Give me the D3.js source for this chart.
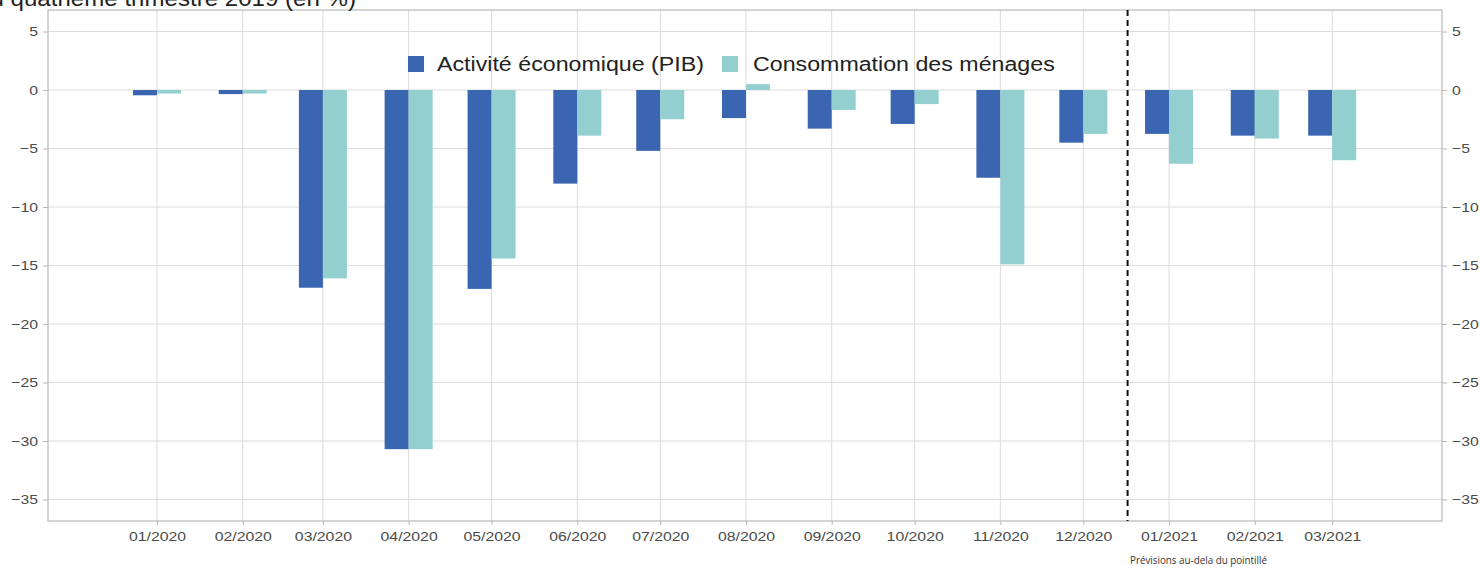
<!DOCTYPE html>
<html><head><meta charset="utf-8">
<script src="https://cdn.jsdelivr.net/npm/d3@7/dist/d3.min.js"></script>
<style>
body{margin:0;background:#fff;}
svg{display:block;font-family:"Liberation Sans",Arial,sans-serif;}
</style></head>
<body><svg id="chart" width="1480" height="569"></svg>
<script>
const months = ["2020-01","2020-02","2020-03","2020-04","2020-05","2020-06","2020-07","2020-08","2020-09","2020-10","2020-11","2020-12","2021-01","2021-02","2021-03"];
const pib = [-0.45,-0.35,-16.9,-30.7,-17.0,-8.0,-5.2,-2.4,-3.3,-2.9,-7.5,-4.5,-3.75,-3.9,-3.9];
const conso = [-0.3,-0.3,-16.1,-30.7,-14.4,-3.9,-2.5,0.5,-1.7,-1.2,-14.9,-3.75,-6.3,-4.15,-6.0];
const yTicks = [5,0,-5,-10,-15,-20,-25,-30,-35];
const seriesNames = ["Activité économique (PIB)","Consommation des ménages"];
const colors = ["#3a65b0","#94cfcf"];
const forecastDate = "2020-12-17";
const titleText = "Écart par rapport au quatrième trimestre 2019 (en %)";
const noteText = "Prévisions au-dela du pointillé";

const parse = d3.utcParse("%Y-%m");
const dates = months.map(parse);
const svg = d3.select("#chart");
const L = 48, R = 1442, T = 10, B = 521;

function stretch(sel, f) {
  sel.each(function () {
    const w = this.getComputedTextLength();
    d3.select(this).attr("textLength", w * f).attr("lengthAdjust", "spacingAndGlyphs");
  });
}

const x = d3.scaleUtc()
  .domain([new Date(Date.UTC(2019,10,22,14)), new Date(Date.UTC(2021,3,9,17))])
  .range([L, R]);
const y = d3.scaleLinear().domain([6.84, -36.84]).range([T, B]);

// gridlines
const g = svg.append("g");
g.selectAll(".hg").data(yTicks).enter().append("line")
  .attr("x1", L).attr("x2", R).attr("y1", d => y(d)).attr("y2", d => y(d))
  .attr("stroke", "#dcdcdc").attr("stroke-width", 1);
g.selectAll(".vg").data(dates).enter().append("line")
  .attr("y1", T).attr("y2", B).attr("x1", d => x(d)).attr("x2", d => x(d))
  .attr("stroke", "#dcdcdc").attr("stroke-width", 1);

// frame
svg.append("rect").attr("x", L).attr("y", T).attr("width", R - L).attr("height", B - T)
  .attr("fill", "none").attr("stroke", "#b8b8b8").attr("stroke-width", 1.2);

// axes
const fmtY = d3.format("d");
const yl = svg.append("g").attr("transform", `translate(${L},0)`)
  .call(d3.axisLeft(y).tickValues(yTicks).tickSize(5).tickPadding(5).tickFormat(fmtY));
const yr = svg.append("g").attr("transform", `translate(${R},0)`)
  .call(d3.axisRight(y).tickValues(yTicks).tickSize(5).tickPadding(5).tickFormat(fmtY));
const xa = svg.append("g").attr("transform", `translate(0,${B})`)
  .call(d3.axisBottom(x).tickValues(dates).tickSize(4).tickPadding(6).tickFormat(d3.utcFormat("%m/%Y")));
[yl, yr, xa].forEach(a => {
  a.select(".domain").remove();
  a.selectAll(".tick line").attr("stroke", "#b8b8b8");
  a.selectAll(".tick text").attr("fill", "#4a4a4a").style("font-size", "13.5px")
    .style("font-family", "'Liberation Sans',Arial,sans-serif");
  stretch(a.selectAll(".tick text"), 1.17);
});

// bars
const bw = 24;
const barsG = svg.append("g");
[pib, conso].forEach((vals, si) => {
  barsG.selectAll(".b" + si).data(vals).enter().append("rect")
    .attr("x", (d, i) => x(dates[i]) + (si === 0 ? -bw : 0))
    .attr("width", bw)
    .attr("y", d => y(Math.max(0, d)))
    .attr("height", d => Math.abs(y(d) - y(0)))
    .attr("fill", colors[si]);
});

// forecast dashed line
const fx = x(d3.utcParse("%Y-%m-%d")(forecastDate));
svg.append("line").attr("x1", fx).attr("x2", fx).attr("y1", T).attr("y2", B)
  .attr("stroke", "#111").attr("stroke-width", 2).attr("stroke-dasharray", "6,4");

// legend
const lg = svg.append("g");
const legendPos = [{sx: 408, tx: 437}, {sx: 722, tx: 753}];
seriesNames.forEach((n, i) => {
  lg.append("rect").attr("x", legendPos[i].sx).attr("y", 56).attr("width", 16).attr("height", 16)
    .attr("fill", colors[i]);
  const t = lg.append("text").attr("x", legendPos[i].tx).attr("y", 71).text(n)
    .attr("fill", "#222").style("font-size", "20px");
  stretch(t, 1.16);
});

// title (cut off at top, as in the source image)
const tt = svg.append("text").attr("x", 356).attr("y", 5.5).attr("text-anchor", "end")
  .text(titleText).attr("fill", "#222").style("font-size", "22px");
stretch(tt, 1.095);

// note
svg.append("text").attr("x", 1130).attr("y", 564).text(noteText)
  .attr("fill", "#333").style("font-size", "10px").style("font-family", "'Open Sans',sans-serif")
  .attr("textLength", 137).attr("lengthAdjust", "spacingAndGlyphs");
</script></body></html>
